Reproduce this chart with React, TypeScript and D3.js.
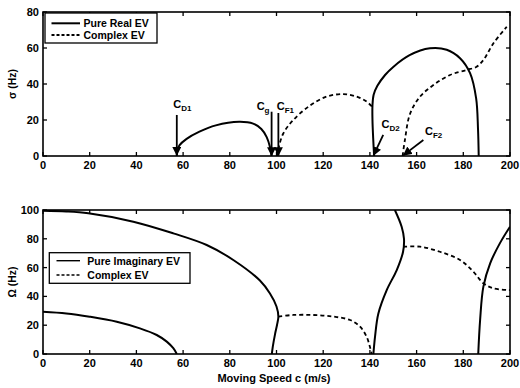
import * as d3 from 'd3';

// ---- data ----
const xTicks = [0, 20, 40, 60, 80, 100, 120, 140, 160, 180, 200];
const sigmaTicks = [0, 20, 40, 60, 80];
const omegaTicks = [0, 20, 40, 60, 80, 100];

const sigmaReal1 = [[57.3, 0], [57.5, 3], [58.5, 6], [61.5, 9.5], [67, 13.5], [74, 17], [84, 19], [90, 18], [93.5, 15], [95.8, 10.5], [97.2, 5], [97.9, 0]];
const sigmaComplex1 = [[100.2, 0], [100.8, 4], [102.9, 12.5], [107.2, 20], [114.3, 28], [121.5, 33], [128.6, 34.4], [134.3, 33], [138.6, 30.2], [140.9, 27.5]];
const sigmaReal2 = [[141.8, 0], [141.4, 10], [141.1, 20], [141.1, 28], [141.6, 34], [143.2, 39], [146.5, 45], [150, 49.5], [157, 56], [165.7, 59.8], [172.9, 59], [178.6, 54.3], [182.9, 46], [185.5, 32], [186.3, 15], [186.6, 0]];
const sigmaComplex2 = [[154, 0], [155, 9], [157.2, 23.5], [161.5, 33], [167.2, 39.4], [174.3, 45], [181.4, 47.8], [185.7, 49.6], [188.6, 53.3], [192.9, 62.6], [198.6, 71.8]];

const omegaImag1 = [[0, 99.5], [10, 99], [19.4, 97.7], [38.7, 91.9], [55.8, 83.8], [70.1, 75.7], [81.5, 65.3], [92.9, 51], [97.2, 42], [100, 33], [100.8, 26], [100.2, 20], [99.4, 14], [98.4, 5], [98, 0]];
const omegaImag2 = [[0, 29.4], [10, 28.2], [20, 25.9], [31.6, 22.4], [41.5, 17.8], [48.7, 13.2], [53, 8.6], [55.8, 4], [57.3, 0]];
const omegaImag3 = [[141.5, 0], [142.2, 12], [143.6, 28], [147.2, 44.4], [151.5, 58.3], [154.2, 71], [154.6, 80], [153.6, 88.4], [150.7, 100]];
const omegaImag4 = [[186.4, 0], [187.2, 23.6], [188.6, 46.8], [191.5, 63], [195.7, 77], [200, 88.4]];
const omegaComplex1 = [[100.8, 26], [107.2, 27.1], [115.8, 27.1], [124.3, 26], [131.5, 23.6], [135.8, 19], [138.6, 12], [140, 5], [140.8, 0]];
const omegaComplex2 = [[154.3, 74.5], [161.5, 74.5], [170, 71], [178.6, 65.3], [184.3, 57.2], [188.6, 49.1], [192.9, 45.6], [200, 44.4]];

// annotations: label, subscript, text pos (c, sigma), arrow from -> to
const notes = [
  { t: 'C', sub: 'D1', tx: 55.8, ty: 26.8, x1: 57.3, y1: 22.8, x2: 57.3, y2: 0.5 },
  { t: 'C', sub: 'g', tx: 91.5, ty: 25.5, x1: 97.9, y1: 24.6, x2: 97.9, y2: 0.3 },
  { t: 'C', sub: 'F1', tx: 100.1, ty: 25.5, x1: 100.8, y1: 23.9, x2: 100.8, y2: 0.3 },
  { t: 'C', sub: 'D2', tx: 145.0, ty: 15.4, x1: 145.7, y1: 11.7, x2: 141.6, y2: 0.5 },
  { t: 'C', sub: 'F2', tx: 163.6, ty: 11.7, x1: 162.9, y1: 8.9, x2: 154.4, y2: 0.5 },
];

const W = 520;
const H = 388;
const left = 43;
const right = 510;
const font = 'Liberation Sans, Arial, sans-serif';

const x = d3.scaleLinear().domain([0, 200]).range([left, right]);
const ySig = d3.scaleLinear().domain([0, 80]).range([156, 12]);
const yOm = d3.scaleLinear().domain([0, 100]).range([354, 210]);

function Panel({ y, ticks, label, children }: any) {
  const [y0, y1] = y.range();
  return (
    <g>
      <defs>
        <clipPath id={'clip' + y0}>
          <rect x={left} y={y1} width={right - left} height={y0 - y1} />
        </clipPath>
      </defs>
      <g clipPath={`url(#clip${y0})`}>{children}</g>
      <rect x={left} y={y1} width={right - left} height={y0 - y1} fill="none" stroke="#000" strokeWidth={1.6} />
      {xTicks.map((t) => (
        <g key={'x' + t}>
          <line x1={x(t)} x2={x(t)} y1={y0} y2={y0 - 4} stroke="#000" strokeWidth={1.3} />
          <line x1={x(t)} x2={x(t)} y1={y1} y2={y1 + 4} stroke="#000" strokeWidth={1.3} />
          <text x={x(t)} y={y0 + 13} textAnchor="middle" fontSize={11} fontWeight="bold">{t}</text>
        </g>
      ))}
      {ticks.map((t: number) => (
        <g key={'y' + t}>
          <line x1={left} x2={left + 4} y1={y(t)} y2={y(t)} stroke="#000" strokeWidth={1.3} />
          <line x1={right} x2={right - 4} y1={y(t)} y2={y(t)} stroke="#000" strokeWidth={1.3} />
          <text x={left - 4} y={y(t) + 4} textAnchor="end" fontSize={11} fontWeight="bold">{t}</text>
        </g>
      ))}
      <text transform={`translate(16,${(y0 + y1) / 2}) rotate(-90)`} textAnchor="middle" fontSize={10.5} fontWeight="bold">{label}</text>
    </g>
  );
}

export default function App() {
  const lineS = d3.line<number[]>().x((d) => x(d[0])).y((d) => ySig(d[1])).curve(d3.curveCatmullRom.alpha(0.5));
  const lineO = d3.line<number[]>().x((d) => x(d[0])).y((d) => yOm(d[1])).curve(d3.curveCatmullRom.alpha(0.5));
  const solid = { fill: 'none', stroke: '#000', strokeWidth: 2 };
  const dash = { fill: 'none', stroke: '#000', strokeWidth: 1.8, strokeDasharray: '4 3' };

  return (
    <svg width={W} height={H} style={{ position: 'absolute', left: 0, top: 0, background: '#fff' }} fontFamily={font}>
      <defs>
        <marker id="arr" viewBox="0 0 10 10" refX="9" refY="5" markerWidth="5" markerHeight="5" orient="auto">
          <path d="M0,0 L10,5 L0,10 z" fill="#000" />
        </marker>
      </defs>

      <Panel y={ySig} ticks={sigmaTicks} label="σ (Hz)">
        <path d={lineS(sigmaReal1)!} {...solid} />
        <path d={lineS(sigmaReal2)!} {...solid} />
        <path d={lineS(sigmaComplex1)!} {...dash} />
        <path d={lineS(sigmaComplex2)!} {...dash} />
      </Panel>
      {notes.map((n) => (
        <g key={n.sub}>
          <line x1={x(n.x1)} y1={ySig(n.y1)} x2={x(n.x2)} y2={ySig(n.y2)} stroke="#000" strokeWidth={1.8} markerEnd="url(#arr)" />
          <text x={x(n.tx)} y={ySig(n.ty)} fontSize={11} fontWeight="bold">
            {n.t}
            <tspan fontSize={8} dy={3}>{n.sub}</tspan>
          </text>
        </g>
      ))}
      <g>
        <rect x={45} y={13} width={112} height={30} fill="#fff" stroke="#000" strokeWidth={1.3} />
        <line x1={51.5} x2={80} y1={23.3} y2={23.3} {...solid} />
        <line x1={51.5} x2={80} y1={35} y2={35} {...dash} strokeDasharray="3 2" />
        <text x={83.5} y={27.3} fontSize={10.5} fontWeight="bold">Pure Real EV</text>
        <text x={83.5} y={39} fontSize={10.5} fontWeight="bold">Complex EV</text>
      </g>

      <Panel y={yOm} ticks={omegaTicks} label="Ω (Hz)">
        <path d={lineO(omegaImag1)!} {...solid} />
        <path d={lineO(omegaImag2)!} {...solid} />
        <path d={lineO(omegaImag3)!} {...solid} />
        <path d={lineO(omegaImag4)!} {...solid} />
        <path d={lineO(omegaComplex1)!} {...dash} />
        <path d={lineO(omegaComplex2)!} {...dash} />
      </Panel>
      <g>
        <rect x={49.3} y={252.7} width={140.7} height={30.6} fill="#fff" stroke="#000" strokeWidth={1.3} />
        <line x1={56.5} x2={80} y1={260.7} y2={260.7} stroke="#000" strokeWidth={1.4} />
        <line x1={56.5} x2={80} y1={275} y2={275} stroke="#000" strokeWidth={1.4} strokeDasharray="3 2" />
        <text x={87.3} y={264.7} fontSize={10.5} fontWeight="bold">Pure Imaginary EV</text>
        <text x={87.3} y={279} fontSize={10.5} fontWeight="bold">Complex EV</text>
      </g>
      <text x={274} y={381.5} textAnchor="middle" fontSize={11} fontWeight="bold">Moving Speed c (m/s)</text>
    </svg>
  );
}
